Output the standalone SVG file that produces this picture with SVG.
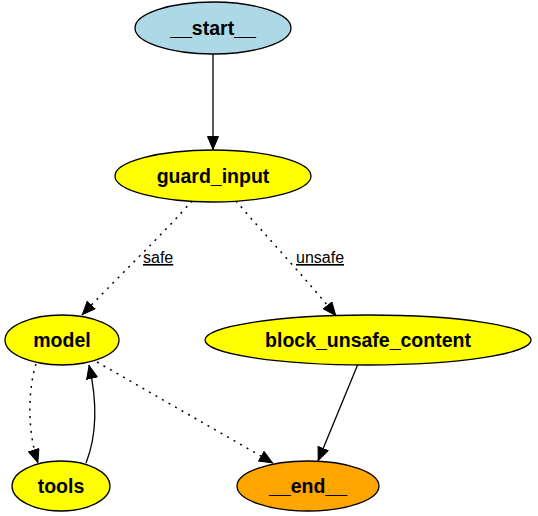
<svg xmlns="http://www.w3.org/2000/svg" width="538" height="516" viewBox="0 0 538 516">
<style>
.node ellipse{stroke:#000;stroke-width:1.3}
.node text{font-family:"Liberation Sans",Arial,Helvetica,sans-serif;font-weight:bold;font-size:19.5px;text-anchor:middle;fill:#000}
.edge{fill:none;stroke:#000;stroke-width:1.3}
.dot{stroke-dasharray:2,5.5;stroke-width:1.5}
.lbl{font-family:"Liberation Sans",Arial,Helvetica,sans-serif;font-size:16px;text-decoration:underline;fill:#000}
</style>
<defs>
<marker id="ah" markerUnits="userSpaceOnUse" markerWidth="14" markerHeight="12" refX="14" refY="6" orient="auto">
<path d="M0.5,0.5 L13.5,6 L0.5,11.5 z" fill="#000" stroke="#000" stroke-width="1"/>
</marker>
</defs>
<rect width="538" height="516" fill="#fff"/>
<g id="connectors">
<path class="edge" d="M213,54 L213,150" marker-end="url(#ah)"/>
<path class="edge dot" d="M192,201 C165,232 110,285 82,315" marker-end="url(#ah)"/>
<text class="lbl" x="143" y="263">safe</text>
<path class="edge dot" d="M236,201 C265,235 310,283 336,316" marker-end="url(#ah)"/>
<text class="lbl" x="296" y="263">unsafe</text>
<path class="edge dot" d="M36,364 C28,390 27,430 38,463" marker-end="url(#ah)"/>
<path class="edge" d="M86,463 C97,435 97,400 89,365" marker-end="url(#ah)"/>
<path class="edge dot" d="M97,362 L273,463" marker-end="url(#ah)"/>
<path class="edge" d="M358,364 L318,461" marker-end="url(#ah)"/>
</g>
<g id="start" class="node"><ellipse cx="213" cy="28" rx="78" ry="26" fill="#add8e6"/><text x="213" y="35">__start__</text></g>
<g id="guard_input" class="node"><ellipse cx="213" cy="176" rx="98" ry="26" fill="#ffff00"/><text x="213" y="183">guard_input</text></g>
<g id="model" class="node"><ellipse cx="62" cy="340" rx="57" ry="25" fill="#ffff00"/><text x="62" y="347">model</text></g>
<g id="block_unsafe_content" class="node"><ellipse cx="368" cy="340" rx="163" ry="25" fill="#ffff00"/><text x="368" y="347">block_unsafe_content</text></g>
<g id="tools" class="node"><ellipse cx="61" cy="486" rx="49" ry="25" fill="#ffff00"/><text x="61" y="493">tools</text></g>
<g id="end" class="node"><ellipse cx="308" cy="486" rx="71" ry="25" fill="#ffa500"/><text x="308" y="493">__end__</text></g>
</svg>
